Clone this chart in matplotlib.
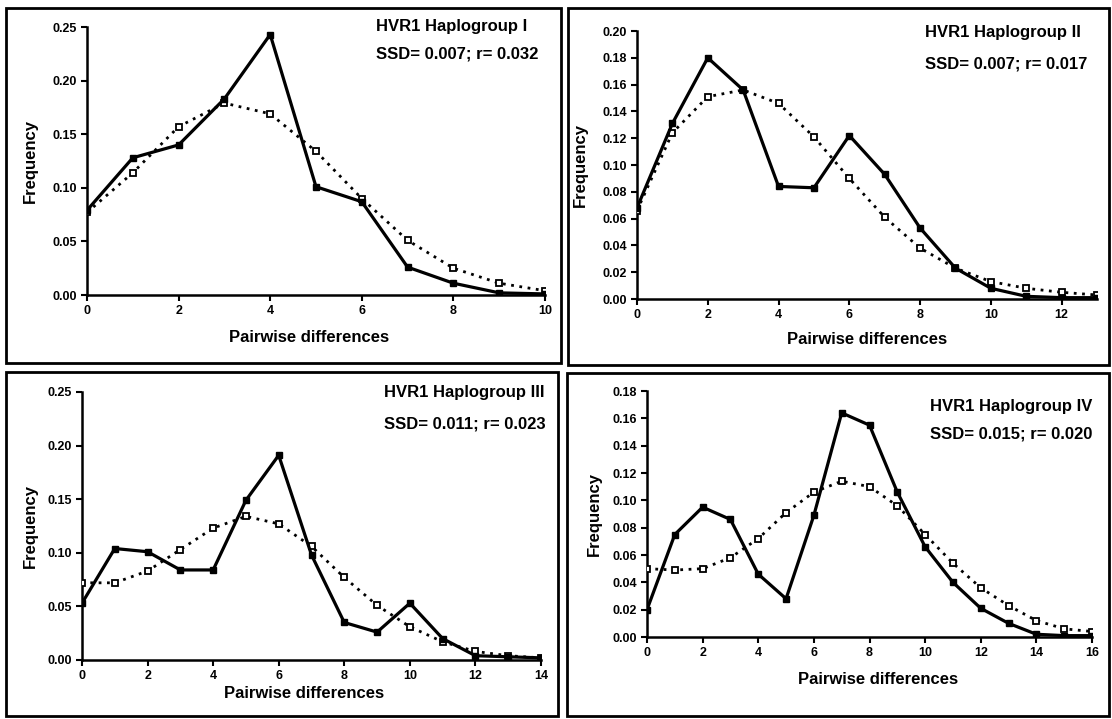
import matplotlib
matplotlib.use("Agg")
import matplotlib.pyplot as plt
from matplotlib.patches import Rectangle

plt.rcParams['font.family'] = ['Liberation Sans', 'DejaVu Sans']
plt.rcParams['font.weight'] = 'bold'

W, H = 1112, 719

# ---------------- data ----------------
titles = ["HVR1 Haplogroup I", "HVR1 Haplogroup II",
          "HVR1 Haplogroup III", "HVR1 Haplogroup IV"]
stats = ["SSD= 0.007; r= 0.032", "SSD= 0.007; r= 0.017",
         "SSD= 0.011; r= 0.023", "SSD= 0.015; r= 0.020"]

obs_I = [0.079, 0.128, 0.140, 0.183, 0.243, 0.101, 0.087, 0.026, 0.011, 0.002, 0.001]
exp_I = [0.077, 0.114, 0.157, 0.179, 0.169, 0.134, 0.090, 0.051, 0.025, 0.011, 0.004]

obs_II = [0.068, 0.131, 0.180, 0.156, 0.084, 0.083, 0.122, 0.093, 0.053, 0.023, 0.008, 0.002, 0.001, 0.001]
exp_II = [0.066, 0.124, 0.151, 0.156, 0.146, 0.121, 0.090, 0.061, 0.038, 0.023, 0.013, 0.008, 0.005, 0.003]

obs_III = [0.053, 0.104, 0.101, 0.084, 0.084, 0.149, 0.191, 0.098, 0.035, 0.026, 0.053, 0.020, 0.004, 0.003, 0.002]
exp_III = [0.072, 0.072, 0.083, 0.103, 0.123, 0.134, 0.127, 0.106, 0.077, 0.051, 0.031, 0.017, 0.008, 0.004, 0.002]

obs_IV = [0.020, 0.075, 0.095, 0.086, 0.046, 0.028, 0.089, 0.164, 0.155, 0.106, 0.066, 0.040, 0.021, 0.010, 0.002, 0.001, 0.001]
exp_IV = [0.050, 0.049, 0.050, 0.058, 0.072, 0.091, 0.106, 0.114, 0.110, 0.096, 0.075, 0.054, 0.036, 0.023, 0.012, 0.006, 0.004]

observed = [obs_I, obs_II, obs_III, obs_IV]
expected = [exp_I, exp_II, exp_III, exp_IV]

xmax = [10, 13, 14, 16]
xticks = [list(range(0, 11, 2)), list(range(0, 13, 2)),
          list(range(0, 15, 2)), list(range(0, 17, 2))]
ymax = [0.25, 0.20, 0.25, 0.18]
ystep = [0.05, 0.02, 0.05, 0.02]

# ---------------- layout (pixels) ----------------
axes_px = [(87, 545, 27, 295), (637, 1097, 31, 299),
           (82, 541, 392, 660), (647, 1092, 391, 637)]
frames_px = [(6, 561, 8, 363), (568, 1109, 8, 365),
             (6, 558, 372, 716), (567, 1109, 373, 716)]
text_px = [(376, 26, 54), (925, 33, 64), (384, 393, 424), (930, 407, 434)]
ylabel_x_px = [30, 580, 30, 594]
xlabel_px = [(309, 337), (867, 340), (304, 693), (878, 679)]

fig = plt.figure(figsize=(W / 100, H / 100), dpi=100)

for (x0, x1, y0, y1) in frames_px:
    fig.patches.append(Rectangle((x0 / W, 1 - y1 / H), (x1 - x0) / W, (y1 - y0) / H,
                                 transform=fig.transFigure, fill=False,
                                 edgecolor='black', linewidth=2.0))

for i in range(4):
    x0, x1, y0, y1 = axes_px[i]
    aw, ah = x1 - x0, y1 - y0
    ax = fig.add_axes([x0 / W, 1 - y1 / H, aw / W, ah / H])
    xs = list(range(len(observed[i])))
    ax.plot(xs, expected[i], color='black', linestyle=(0, (1, 2.0)), linewidth=2.0,
            marker='s', markersize=3.8, markerfacecolor='white',
            markeredgecolor='black', markeredgewidth=1.3, zorder=2)
    ax.plot(xs, observed[i], color='black', linestyle='-', linewidth=2.3,
            marker='s', markersize=4.2, markerfacecolor='black',
            markeredgecolor='black', zorder=3)
    ax.set_xlim(0, xmax[i])
    ax.set_ylim(0, ymax[i])
    ax.set_xticks(xticks[i])
    n = int(round(ymax[i] / ystep[i]))
    yt = [round(k * ystep[i], 2) for k in range(n + 1)]
    ax.set_yticks(yt)
    ax.set_yticklabels([f"{v:.2f}" for v in yt])
    ax.spines['top'].set_visible(False)
    ax.spines['right'].set_visible(False)
    ax.spines['left'].set_linewidth(1.8)
    ax.spines['bottom'].set_linewidth(1.8)
    ax.tick_params(direction='out', length=4, width=1.5, labelsize=9, pad=3)
    for lab in ax.get_xticklabels() + ax.get_yticklabels():
        lab.set_fontweight('bold')
    ax.set_xlabel("Pairwise differences", fontsize=12, fontweight='bold')
    ax.set_ylabel("Frequency", fontsize=12, fontweight='bold')
    lx, ly = xlabel_px[i]
    ax.xaxis.set_label_coords((lx - x0) / aw, (y1 - ly) / ah)
    ax.xaxis.label.set_va('center')
    ax.yaxis.set_label_coords((ylabel_x_px[i] - x0) / aw, 0.5)
    ax.yaxis.label.set_va('center')
    ax.patch.set_alpha(0)
    for sp in ax.spines.values():
        sp.set_zorder(1)

    tx, ty1, ty2 = text_px[i]
    fig.text(tx / W, 1 - ty1 / H, titles[i], fontsize=12, fontweight='bold',
             ha='left', va='center')
    fig.text(tx / W, 1 - ty2 / H, stats[i], fontsize=12, fontweight='bold',
             ha='left', va='center')

fig.savefig("out.png", dpi=100)
